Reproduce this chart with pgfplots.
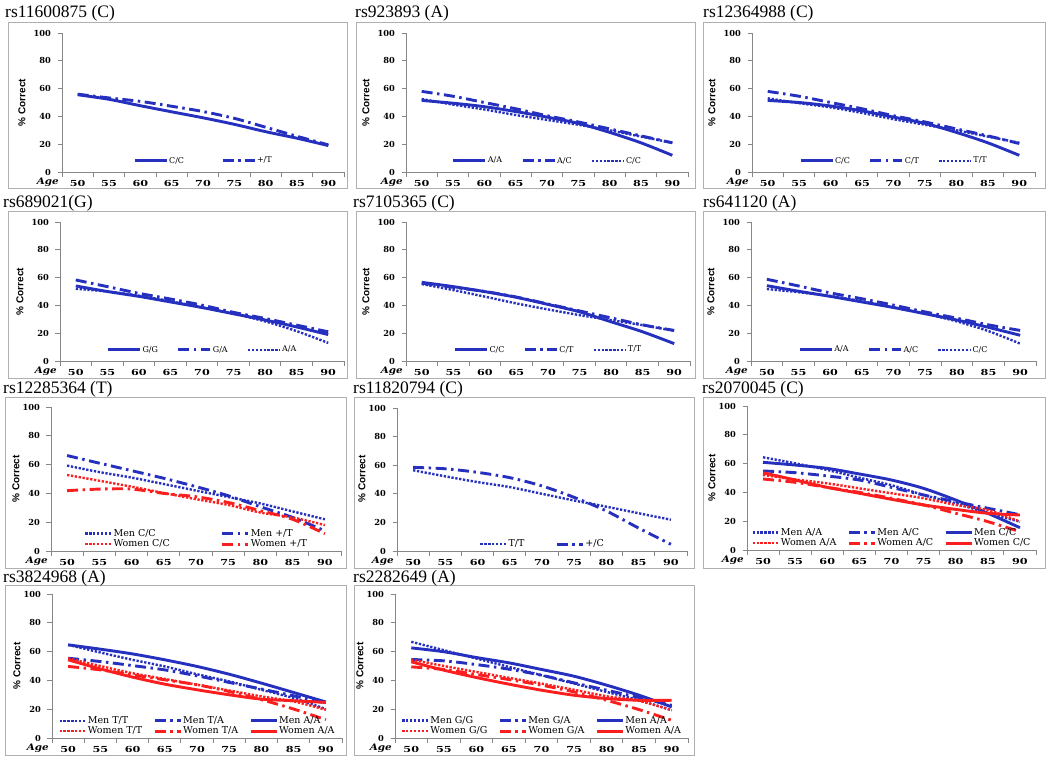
\documentclass[border=0pt]{standalone}
\usepackage{pgfplots}
\pgfplotsset{compat=1.18}
\usepackage{fontspec}
\setmainfont{DejaVu Serif}
\newfontfamily\titlefont{Liberation Serif}
\newfontfamily\tkfont{DejaVu Serif}
\newfontfamily\sansf{Liberation Sans}
\definecolor{lb}{RGB}{38,48,190}
\definecolor{lr}{RGB}{250,30,30}
\definecolor{axg}{RGB}{135,135,135}
\definecolor{boxg}{RGB}{175,175,175}
\tikzset{
 sol/.style={line width=2.9pt},
 dd/.style={line width=2.9pt, dash pattern=on 11pt off 4.5pt on 2.5pt off 4.5pt},
 dt/.style={line width=2.4pt, dash pattern=on 2.3pt off 1.6pt},
}
\pgfplotsset{
 pan/.style={
  scale only axis, anchor=south west,
  xmin=47.5, xmax=92.5, ymin=0, ymax=100,
  axis x line*=bottom, axis y line*=left,
  axis line style={draw=axg, line width=0.8pt, -},
  xtick={50,55,...,90}, minor xtick={47.5,52.5,...,92.5},
  ytick={0,20,...,100},
  tick align=outside, major tick length=4.5pt, minor tick length=5pt,
  every tick/.style={draw=axg, line width=0.8pt},
  major x tick style={draw=none},
  x tick label style={font=\tkfont\bfseries\fontsize{8.3}{8.3}\selectfont, xscale=1.35},
  y tick label style={font=\tkfont\bfseries\fontsize{8.3}{8.3}\selectfont, xshift=-3pt},
  /pgf/number format/assume math mode=true,
  legend cell align=left,
  legend style={draw=none, fill=none, anchor=south, inner sep=0pt, nodes={inner sep=1pt}},
 },
 leg12/.style={legend image code/.code={\draw[##1] (0pt,0pt) -- (32pt,0pt);},
  legend style={font=\tkfont\fontsize{8}{8}\selectfont, at={(0.5,0.045)}}},
 leg34/.style={legend image code/.code={\draw[##1] (0pt,0pt) -- (26pt,0pt);},
  legend style={font=\tkfont\fontsize{9.5}{9.5}\selectfont, at={(0.5,0.01)}}},
}
\newcommand\ylab[2]{\node[rotate=90, inner sep=0, font=\sansf\bfseries\fontsize{10}{10}\selectfont] at (#1pt,-#2pt) {\% Correct};}
\newcommand\agelab[2]{\node[anchor=east, inner sep=0, font=\tkfont\bfseries\itshape\fontsize{9}{9}\selectfont, xscale=1.15] at (#1pt,-#2pt) {Age};}
\newcommand\ttl[3]{\node[anchor=base west, inner sep=0, font=\titlefont\fontsize{17.5}{17.5}\selectfont] at (#1pt,-#2pt) {#3};}
\newcommand\bx[4]{\draw[boxg, line width=0.8pt] (#1pt,-#2pt) rectangle (#3pt,-#4pt);}
\begin{document}
\begin{tikzpicture}
\path[use as bounding box] (0pt,0pt) rectangle (1050pt,-761pt);
% ---------- Row 1 ----------
\begin{axis}[pan, leg12, at={(62pt,-172pt)}, width=282pt, height=139pt, legend columns=2,
 legend style={/tikz/every even column/.append style={column sep=36pt}}]
\addplot[lb, sol, smooth] coordinates {(50,55.6)(55,52.3)(60,47.7)(65,43.3)(70,39)(75,34.3)(80,29)(85,24.3)(90,19)};
\addplot[lb, dd, smooth] coordinates {(50,56)(55,53.3)(60,50.8)(65,47.3)(70,43.5)(75,38.6)(80,32.2)(85,25.7)(90,19.5)};
\legend{C/C,+/T}
\end{axis}
\begin{axis}[pan, leg12, at={(406pt,-172pt)}, width=282pt, height=139pt, legend columns=3,
 legend style={/tikz/every even column/.append style={column sep=18pt}}]
\addplot[lb, sol, smooth] coordinates {(50,51.5)(55,49.5)(60,47)(65,43.5)(70,39.5)(75,35)(80,28.5)(85,21)(90,12)};
\addplot[lb, dd, smooth] coordinates {(50,58)(55,54.5)(60,50)(65,45.5)(70,40.5)(75,36)(80,31)(85,26)(90,21)};
\addplot[lb, dt, smooth] coordinates {(50,52.5)(55,48.5)(60,45)(65,41)(70,37.5)(75,34)(80,30)(85,25.5)(90,21)};
\legend{A/A,A/C,C/C}
\end{axis}
\begin{axis}[pan, leg12, at={(752pt,-172pt)}, width=283pt, height=139pt, legend columns=3,
 legend style={/tikz/every even column/.append style={column sep=18pt}}]
\addplot[lb, sol, smooth] coordinates {(50,51.5)(55,50)(60,47.5)(65,44)(70,39.5)(75,35)(80,28.5)(85,21)(90,12)};
\addplot[lb, dd, smooth] coordinates {(50,58)(55,54.5)(60,50)(65,45.5)(70,40.5)(75,36)(80,31)(85,26)(90,20.5)};
\addplot[lb, dt, smooth] coordinates {(50,53)(55,49.5)(60,46.5)(65,42.5)(70,38)(75,34)(80,30)(85,25.5)(90,21)};
\legend{C/C,C/T,T/T}
\end{axis}
% ---------- Row 2 ----------
\begin{axis}[pan, leg12, at={(60pt,-361pt)}, width=284pt, height=139pt, legend columns=3,
 legend style={/tikz/every even column/.append style={column sep=18pt}}]
\addplot[lb, sol, smooth] coordinates {(50,54)(55,50)(60,46.5)(65,42.5)(70,38.5)(75,34)(80,29.5)(85,24.5)(90,19)};
\addplot[lb, dd, smooth] coordinates {(50,58.3)(55,53.5)(60,48.7)(65,44.6)(70,40.2)(75,35)(80,30.6)(85,25.8)(90,21)};
\addplot[lb, dt, smooth] coordinates {(50,52)(55,50)(60,47)(65,43)(70,38.5)(75,34)(80,28.5)(85,21.5)(90,13)};
\legend{G/G,G/A,A/A}
\end{axis}
\begin{axis}[pan, leg12, at={(406pt,-361pt)}, width=284pt, height=139pt, legend columns=3,
 legend style={/tikz/every even column/.append style={column sep=18pt}}]
\addplot[lb, sol, smooth] coordinates {(50,56.6)(55,53.5)(60,49.9)(65,45.8)(70,40.7)(75,35.4)(80,28.2)(85,21)(90,12.5)};
\addplot[lb, dd, smooth] coordinates {(50,56)(55,53)(60,50)(65,46)(70,41)(75,36)(80,31)(85,26)(90,22)};
\addplot[lb, dt, smooth] coordinates {(50,55.4)(55,51)(60,46.3)(65,41.4)(70,37.1)(75,33)(80,29.4)(85,25.8)(90,21.7)};
\legend{C/C,C/T,T/T}
\end{axis}
\begin{axis}[pan, leg12, at={(751pt,-361pt)}, width=285pt, height=139pt, legend columns=3,
 legend style={/tikz/every even column/.append style={column sep=18pt}}]
\addplot[lb, sol, smooth] coordinates {(50,54.2)(55,50.2)(60,46.5)(65,42.5)(70,38.5)(75,34)(80,29.5)(85,24.2)(90,18.5)};
\addplot[lb, dd, smooth] coordinates {(50,58.8)(55,54)(60,49)(65,44.8)(70,40.2)(75,35.3)(80,30.8)(85,26)(90,22)};
\addplot[lb, dt, smooth] coordinates {(50,51.8)(55,49.5)(60,46.8)(65,43)(70,38.5)(75,34)(80,28.5)(85,21.5)(90,12.5)};
\legend{A/A,A/C,C/C}
\end{axis}
% ---------- Row 3 ----------
\begin{axis}[pan, leg34, at={(51pt,-551pt)}, width=290pt, height=144pt, legend columns=2,
 legend style={/tikz/every even column/.append style={column sep=50pt}}]
\addplot[lb, dt, smooth] coordinates {(50,59.3)(55,54.8)(60,51)(65,46.5)(70,42)(75,37.5)(80,33)(85,27.5)(90,22)};
\addplot[lb, dd, smooth] coordinates {(50,66.3)(55,61)(60,55.8)(65,50.5)(70,44.7)(75,38.4)(80,30.7)(85,23.3)(90,14)};
\addplot[lr, dt, smooth] coordinates {(50,52.8)(55,48.8)(60,44.7)(65,40.3)(70,36)(75,32)(80,26.7)(85,23.3)(90,18)};
\addplot[lr, dd, smooth] coordinates {(50,41.9)(55,43)(60,43)(65,40)(70,37.7)(75,33.7)(80,28)(85,22)(90,12)};
\legend{Men C/C,Men +/T,Women C/C,Women +/T}
\end{axis}
\begin{axis}[pan, leg34, at={(397pt,-551pt)}, width=290pt, height=143pt, legend columns=2,
 legend style={/tikz/every even column/.append style={column sep=30pt}}]
\addplot[lb, dt, smooth] coordinates {(50,56.5)(55,52.2)(60,48.2)(65,44.7)(70,40)(75,35.3)(80,31)(85,26.4)(90,21.9)};
\addplot[lb, dd, smooth] coordinates {(50,58.5)(55,57.5)(60,55)(65,51.3)(70,45.5)(75,37.5)(80,28)(85,16)(90,4.7)};
\legend{T/T,+/C}
\end{axis}
\begin{axis}[pan, leg34, at={(747pt,-550pt)}, width=289pt, height=144pt, legend columns=3,
 legend style={/tikz/every even column/.append style={column sep=10pt}}]
\addplot[lb, dt, smooth] coordinates {(50,64.4)(55,60.2)(60,55.6)(65,50.2)(70,45)(75,38.2)(80,32.4)(85,25.5)(90,19.7)};
\addplot[lb, dd, smooth] coordinates {(50,54.9)(55,53.7)(60,51.4)(65,48.6)(70,43.5)(75,38.2)(80,33.6)(85,29)(90,24.5)};
\addplot[lb, sol, smooth] coordinates {(50,60.9)(55,59)(60,56.7)(65,52.8)(70,48.6)(75,42.8)(80,34.7)(85,25.5)(90,15.5)};
\addplot[lr, dt, smooth] coordinates {(50,52.1)(55,49)(60,46.3)(65,42.8)(70,39.4)(75,35.9)(80,31.3)(85,27.8)(90,19.7)};
\addplot[lr, dd, smooth] coordinates {(50,49.3)(55,47)(60,43.5)(65,40)(70,35.9)(75,31.3)(80,25.5)(85,19.7)(90,12.7)};
\addplot[lr, sol, smooth] coordinates {(50,53.7)(55,48.6)(60,43.5)(65,39.4)(70,35.2)(75,31.3)(80,28.2)(85,25.5)(90,24.3)};
\legend{Men A/A,Men A/C,Men C/C,Women A/A,Women A/C,Women C/C}
\end{axis}
% ---------- Row 4 ----------
\begin{axis}[pan, leg34, at={(52pt,-738pt)}, width=290pt, height=144pt, legend columns=3,
 legend style={/tikz/every even column/.append style={column sep=10pt}}]
\addplot[lb, dt, smooth] coordinates {(50,64.7)(55,59.4)(60,54.3)(65,49.7)(70,44.3)(75,39.3)(80,33.5)(85,27.7)(90,20.1)};
\addplot[lb, dd, smooth] coordinates {(50,55.4)(55,53.1)(60,50.3)(65,47.3)(70,43.2)(75,38.6)(80,34)(85,29.3)(90,24.2)};
\addplot[lb, sol, smooth] coordinates {(50,64.7)(55,61.7)(60,58.4)(65,54.3)(70,49.7)(75,44.3)(80,38.1)(85,31.6)(90,25)};
\addplot[lr, dt, smooth] coordinates {(50,55.4)(55,50)(60,45)(65,41)(70,37)(75,33)(80,28.9)(85,25.4)(90,19.6)};
\addplot[lr, dd, smooth] coordinates {(50,49.7)(55,47.3)(60,43.9)(65,40.4)(70,37)(75,32.3)(80,26.6)(85,20.1)(90,12.7)};
\addplot[lr, sol, smooth] coordinates {(50,54.3)(55,48)(60,42.3)(65,37.4)(70,33.5)(75,30)(80,27)(85,25.9)(90,24.7)};
\legend{Men T/T,Men T/A,Men A/A,Women T/T,Women T/A,Women A/A}
\end{axis}
\begin{axis}[pan, leg34, at={(395pt,-738pt)}, width=293pt, height=144pt, legend columns=3,
 legend style={/tikz/every even column/.append style={column sep=10pt}}]
\addplot[lb, dt, smooth] coordinates {(50,66.8)(55,61)(60,55.2)(65,49.4)(70,43.6)(75,37.8)(80,32)(85,26.2)(90,19.3)};
\addplot[lb, dd, smooth] coordinates {(50,54.5)(55,53.6)(60,51)(65,47.8)(70,43.6)(75,38.3)(80,33.2)(85,28.1)(90,22.7)};
\addplot[lb, sol, smooth] coordinates {(50,62.6)(55,59.9)(60,55.9)(65,52.2)(70,47.6)(75,42.9)(80,36.7)(85,29.7)(90,21.6)};
\addplot[lr, dt, smooth] coordinates {(50,54.5)(55,50)(60,45.9)(65,41.8)(70,37.8)(75,33.5)(80,29)(85,25.8)(90,19.3)};
\addplot[lr, dd, smooth] coordinates {(50,49.4)(55,47.6)(60,44.1)(65,40.6)(70,36.7)(75,32)(80,26.2)(85,19.7)(90,12.3)};
\addplot[lr, sol, smooth] coordinates {(50,52.9)(55,47.1)(60,42)(65,37.4)(70,33.2)(75,29.7)(80,27.4)(85,26.2)(90,26.2)};
\legend{Men G/G,Men G/A,Men A/A,Women G/G,Women G/A,Women A/A}
\end{axis}
% ---------- boxes, titles, labels ----------
\bx{8}{22}{347}{188}\bx{356}{22}{695}{188}\bx{703}{22}{1045}{188}
\bx{8}{211}{347}{378}\bx{356}{211}{695}{378}\bx{703}{211}{1045}{378}
\bx{5}{397}{346}{568}\bx{354}{397}{694}{568}\bx{703}{397}{1045}{568}
\bx{5}{585}{346}{755}\bx{354}{585}{694}{755}
\ttl{5}{17}{rs11600875 (C)}\ttl{355}{17}{rs923893 (A)}\ttl{703}{17}{rs12364988 (C)}
\ttl{3}{207}{rs689021(G)}\ttl{353}{207}{rs7105365 (C)}\ttl{703}{207}{rs641120 (A)}
\ttl{3}{393}{rs12285364 (T)}\ttl{353}{393}{rs11820794 (C)}\ttl{702}{393}{rs2070045 (C)}
\ttl{3}{582}{rs3824968 (A)}\ttl{353}{582}{rs2282649 (A)}
\ylab{22}{102.5}\ylab{366}{102.5}\ylab{712}{102.5}
\ylab{20}{291.5}\ylab{366}{291.5}\ylab{711}{291.5}
\ylab{16}{479}\ylab{362}{479}\ylab{712}{478}
\ylab{17}{666}\ylab{360}{666}
\agelab{59}{182}\agelab{403}{182}\agelab{749}{182}
\agelab{57}{371}\agelab{403}{371}\agelab{748}{371}
\agelab{48}{561}\agelab{394}{561}\agelab{744}{560}
\agelab{49}{748}\agelab{392}{748}
\end{tikzpicture}
\end{document}
